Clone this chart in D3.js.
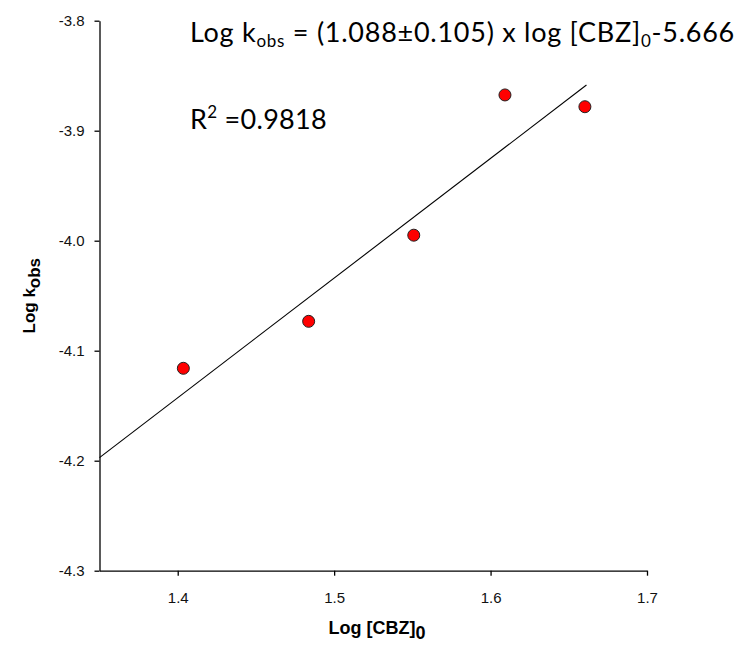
<!DOCTYPE html>
<html><head><meta charset="utf-8">
<script src="https://cdn.jsdelivr.net/npm/d3@7"></script>
<style>body{margin:0;background:#fff}svg{display:block}</style>
</head><body>
<svg id="c" width="738" height="645"></svg>
<script>
const logCBZ = [1.4036, 1.4837, 1.5509, 1.6092, 1.6603];
const logKobs = [-4.1160, -4.0733, -3.9950, -3.8675, -3.8782];
const xTicks = [1.4, 1.5, 1.6, 1.7];
const yTicks = [-3.8, -3.9, -4.0, -4.1, -4.2, -4.3];
const slope = 1.088, intercept = -5.666;
const fitRange = [1.35, 1.6613];

const svg = d3.select("#c");
const L = 99.5, R = 647, T = 20.7, B = 570.7;
const x = d3.scaleLinear().domain([1.35, 1.7]).range([L, R]);
const y = d3.scaleLinear().domain([-4.3, -3.8]).range([B, T]);

const tickFont = "'Liberation Sans', Arial, sans-serif";
const fmt = d => d.toFixed(1);

const xa = svg.append("g").attr("transform", `translate(0,${B})`)
  .call(d3.axisBottom(x).tickValues(xTicks).tickFormat(fmt).tickSize(5).tickSizeOuter(0).tickPadding(16.5));
const ya = svg.append("g").attr("transform", `translate(${L},0)`)
  .call(d3.axisLeft(y).tickValues(yTicks).tickFormat(fmt).tickSize(5).tickSizeOuter(0).tickPadding(10));
[xa, ya].forEach(a => {
  a.selectAll("path,line").attr("stroke", "#000").attr("stroke-width", 1.3);
  a.selectAll("text").attr("font-family", tickFont).attr("font-size", 15).attr("fill", "#111");
});
ya.selectAll("text").attr("dy", "0.35em");

// fit line
svg.append("line")
  .attr("x1", x(fitRange[0])).attr("y1", y(slope * fitRange[0] + intercept))
  .attr("x2", x(fitRange[1])).attr("y2", y(slope * fitRange[1] + intercept))
  .attr("stroke", "#000").attr("stroke-width", 1.1);

// points
svg.selectAll("circle.pt").data(logCBZ).join("circle").attr("class", "pt")
  .attr("cx", d => x(d)).attr("cy", (d, i) => y(logKobs[i]))
  .attr("r", 6).attr("fill", "#ff0000").attr("stroke", "#222").attr("stroke-width", 1);

// annotations
const annFont = "Lato, 'Open Sans', sans-serif";
const eq = svg.append("text").attr("x", 190).attr("y", 42).attr("font-family", annFont).attr("font-size", 27).attr("fill", "#000");
eq.append("tspan").text("Log k");
eq.append("tspan").text("obs").attr("font-size", 17).attr("dy", 5);
eq.append("tspan").text(" = (1.088±0.105) x log [CBZ]").attr("dy", -5);
eq.append("tspan").text("0").attr("font-size", 17).attr("dy", 5);
eq.append("tspan").text("-5.666").attr("dy", -5);
{
  const w = eq.node().getComputedTextLength();
  const n = eq.text().length;
  eq.attr("letter-spacing", (545 - w) / n);
}

const r2 = svg.append("text").attr("x", 190).attr("y", 129).attr("font-family", annFont).attr("font-size", 27).attr("fill", "#000");
r2.append("tspan").text("R");
r2.append("tspan").text("2").attr("font-size", 17).attr("dy", -11);
r2.append("tspan").text(" =0.9818").attr("dy", 11);
{
  const w = r2.node().getComputedTextLength();
  const n = r2.text().length;
  r2.attr("letter-spacing", (137 - w) / n);
}

// axis titles
const titleFont = "'Liberation Sans', Arial, sans-serif";
const xt = svg.append("text").attr("x", 377).attr("y", 634).attr("text-anchor", "middle")
  .attr("font-family", titleFont).attr("font-size", 18).attr("font-weight", "bold");
xt.append("tspan").text("Log [CBZ]");
xt.append("tspan").text("0").attr("dy", 5);

const yt = svg.append("text").attr("transform", `translate(35,${(T + B) / 2}) rotate(-90)`).attr("text-anchor", "middle")
  .attr("font-family", titleFont).attr("font-size", 17).attr("font-weight", "bold");
yt.append("tspan").text("Log k");
yt.append("tspan").text("obs").attr("dy", 5);
</script>
</body></html>
